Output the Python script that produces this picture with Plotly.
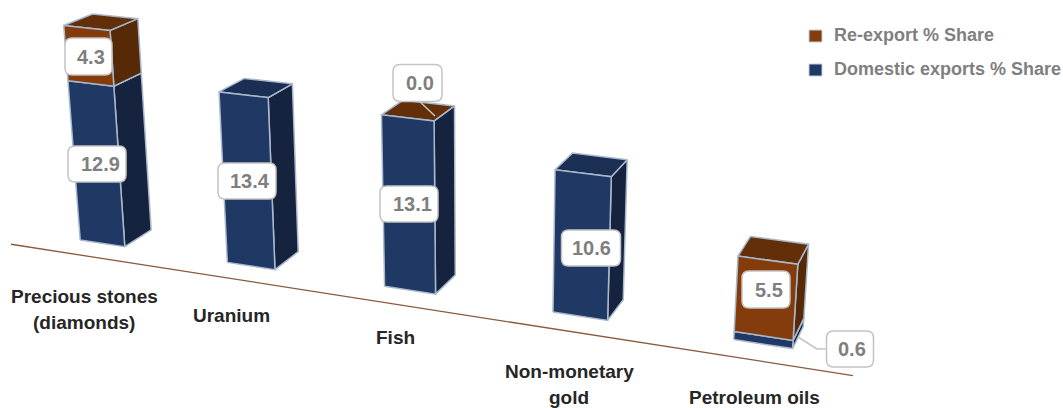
import plotly.graph_objects as go

# Export shares by product
categories = ["Precious stones\n(diamonds)", "Uranium", "Fish", "Non-monetary\ngold", "Petroleum oils"]
domestic_share = [12.9, 13.4, 13.1, 10.6, 0.6]
reexport_share = [4.3, None, 0.0, None, 5.5]

W, H = 1063, 408
NAVY = dict(front="#1F3864", side="#15233F", top="#1B2E54")
BROWN = dict(front="#843C0C", side="#562A06", top="#622F08")
EDGE = "#A9B8CC"
BOX_LINE = "#C4C4C4"
GREY = "#7F7F7F"
DARK = "#262626"
FONT = "Liberation Sans"
BAR_WIDTH = 0.31

# Perspective camera: world (category, depth, value) to screen pixels
CAM_U = (140.54877, 30.135491, -1.108014, 102.377632)
CAM_V = (14.090253, -10.725358, -12.584359, 243.309244)
CAM_W = (-0.032256, 0.025913, -0.002318, 1.0)


def project(x, y, z):
    den = CAM_W[0] * x + CAM_W[1] * y + CAM_W[2] * z + CAM_W[3]
    return (
        (CAM_U[0] * x + CAM_U[1] * y + CAM_U[2] * z + CAM_U[3]) / den,
        (CAM_V[0] * x + CAM_V[1] * y + CAM_V[2] * z + CAM_V[3]) / den,
    )


def face(fig, corners, color):
    points = [project(*c) for c in corners + corners[:1]]
    fig.add_trace(go.Scatter(
        x=[p[0] for p in points], y=[p[1] for p in points],
        mode="lines", fill="toself", fillcolor=color,
        line=dict(color=EDGE, width=1.5), hoverinfo="skip", showlegend=False,
    ))


def segment(fig, i, z0, z1, colors, top_colors):
    """Front, side and top faces of one stacked segment of category i."""
    x0, x1 = i - BAR_WIDTH / 2, i + BAR_WIDTH / 2
    face(fig, [(x1, 0, z0), (x1, 1, z0), (x1, 1, z1), (x1, 0, z1)], colors["side"])
    face(fig, [(x0, 0, z1), (x1, 0, z1), (x1, 1, z1), (x0, 1, z1)], top_colors["top"])
    face(fig, [(x0, 0, z0), (x1, 0, z0), (x1, 0, z1), (x0, 0, z1)], colors["front"])


fig = go.Figure()

# Category axis line in front of the bars
axis_a, axis_b = project(-0.5, -0.7, 0), project(4.5, -0.7, 0)
fig.add_trace(go.Scatter(
    x=[axis_a[0], axis_b[0]], y=[axis_a[1], axis_b[1]], mode="lines",
    line=dict(color="#8A5A3C", width=1.3), hoverinfo="skip", showlegend=False,
))

for i, dom in enumerate(domestic_share):
    rex = reexport_share[i]
    segment(fig, i, 0, dom, NAVY, BROWN if rex == 0 else NAVY)
    if rex:
        segment(fig, i, dom, dom + rex, BROWN, BROWN)

annotations = []
shapes = []


def value_label(value, cx, cy, w, h, text_shift):
    r = 7
    x0, x1, y0, y1 = cx - w / 2, cx + w / 2, cy - h / 2, cy + h / 2
    path = (f"M{x0 + r},{y0} L{x1 - r},{y0} Q{x1},{y0} {x1},{y0 + r} "
            f"L{x1},{y1 - r} Q{x1},{y1} {x1 - r},{y1} "
            f"L{x0 + r},{y1} Q{x0},{y1} {x0},{y1 - r} "
            f"L{x0},{y0 + r} Q{x0},{y0} {x0 + r},{y0} Z")
    shapes.append(dict(type="path", xref="x", yref="y", path=path, layer="above",
                       fillcolor="white", line=dict(color=BOX_LINE, width=1.5)))
    annotations.append(dict(xref="x", yref="y", x=cx + text_shift, y=cy, text=f"<b>{value:.1f}</b>",
                            showarrow=False, xanchor="center", yanchor="middle",
                            font=dict(family=FONT, size=20, color=GREY)))


# Leader lines from the outlying labels to their segments
for a, b, c, d in [(418, 100, 435, 116), (828, 349, 817, 349), (817, 349, 798, 337)]:
    shapes.append(dict(type="line", xref="x", yref="y", x0=a, y0=b, x1=c, y1=d,
                       layer="above", line=dict(color=BOX_LINE, width=1.5)))

domestic_boxes = [(97, 164, 58, 3), (247, 181, 58, 3), (409, 204, 58, 3), (591, 248, 59, 0), (850, 349, 47, 2)]
reexport_boxes = [(88.5, 56.5, 47, 2), None, (417.5, 83, 49, 2), None, (766, 289.5, 48, 3)]
for value, spot in zip(domestic_share, domestic_boxes):
    value_label(value, spot[0], spot[1], spot[2], 36, spot[3])
for value, spot in zip(reexport_share, reexport_boxes):
    if value is not None:
        value_label(value, spot[0], spot[1], spot[2], 37, spot[3])

# Category names, placed line by line
category_spots = [(84, 296), (231, 315), (395, 337), (569, 371), (754, 397)]
for name, (x, y) in zip(categories, category_spots):
    for n, line in enumerate(name.split("\n")):
        annotations.append(dict(xref="x", yref="y", x=x, y=y + 26 * n, text=f"<b>{line}</b>",
                                showarrow=False, xanchor="center", yanchor="middle",
                                font=dict(family=FONT, size=19, color=DARK)))

# Legend
legend_rows = [("Re-export % Share", BROWN["front"], 36), ("Domestic exports % Share", NAVY["front"], 70)]
for name, color, y in legend_rows:
    shapes.append(dict(type="rect", xref="x", yref="y", x0=809, x1=822, y0=y - 6, y1=y + 6,
                       layer="above", fillcolor=color, line=dict(color="#BDD0E9", width=1)))
    annotations.append(dict(xref="x", yref="y", x=832, y=y - 1, text=f"<b>{name}</b>",
                            showarrow=False, xanchor="left", yanchor="middle",
                            font=dict(family=FONT, size=18, color=GREY)))

fig.update_layout(
    width=W, height=H, margin=dict(l=0, r=0, t=0, b=0),
    paper_bgcolor="white", plot_bgcolor="white", showlegend=False,
    xaxis=dict(range=[0, W], visible=False, fixedrange=True),
    yaxis=dict(range=[H, 0], visible=False, fixedrange=True),
    annotations=annotations, shapes=shapes,
)
fig.write_html("out.html")
